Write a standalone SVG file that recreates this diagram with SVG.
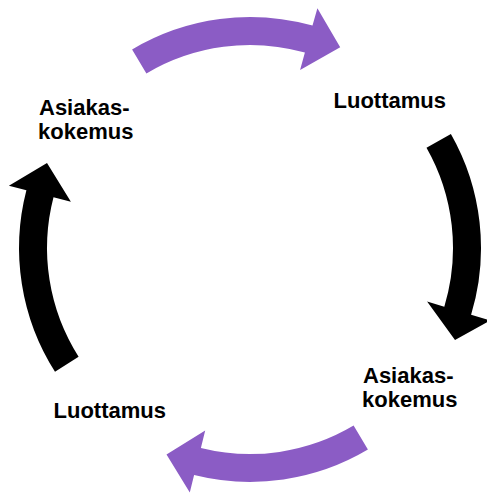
<svg xmlns="http://www.w3.org/2000/svg" width="487" height="493" viewBox="0 0 487 493">
<style>
.purple{fill:#8B5CC5}
.black{fill:#000}
.lbl{font-family:"Liberation Sans",Arial,sans-serif;font-weight:bold;font-size:22px;fill:#000}
</style>
<rect width="487" height="493" fill="#fff"/>
<g id="connectors">
<path id="arrow-top" class="purple" d="M132.1,49.4 A231,231 0 0 1 312.5,25.6 L317.4,8.3 L340.2,47.3 L300.1,69.9 L304.9,52.6 A203,203 0 0 0 146.4,73.4 Z"/>
<path id="arrow-right" class="black" d="M450.9,133.9 A231,231 0 0 1 471.1,314.8 L490.3,320.5 L455,340 L427.1,301.5 L444.3,306.7 A203,203 0 0 0 426.5,147.7 Z"/>
<path id="arrow-bottom" class="purple" transform="translate(0,3)" d="M367.9,446.6 A231,231 0 0 1 194.1,472.1 L189.8,489.6 L166.5,451.5 L205.2,427.5 L200.9,445.0 A203,203 0 0 0 353.6,422.6 Z"/>
<path id="arrow-left" class="black" d="M55.0,371.8 A231,231 0 0 1 26.4,190.2 L8.9,185.7 L47.0,163.1 L70.9,201.7 L53.5,197.2 A203,203 0 0 0 78.6,356.8 Z"/>
</g>
<g id="node-asiakaskokemus-1">
<text class="lbl" x="39" y="114.7">Asiakas-</text>
<text class="lbl" x="38" y="138.7">kokemus</text>
</g>
<g id="node-luottamus-1">
<text class="lbl" x="333.5" y="107.7">Luottamus</text>
</g>
<g id="node-asiakaskokemus-2">
<text class="lbl" x="363" y="383.3">Asiakas-</text>
<text class="lbl" x="362" y="406.7">kokemus</text>
</g>
<g id="node-luottamus-2">
<text class="lbl" x="53.5" y="417.7">Luottamus</text>
</g>
</svg>
